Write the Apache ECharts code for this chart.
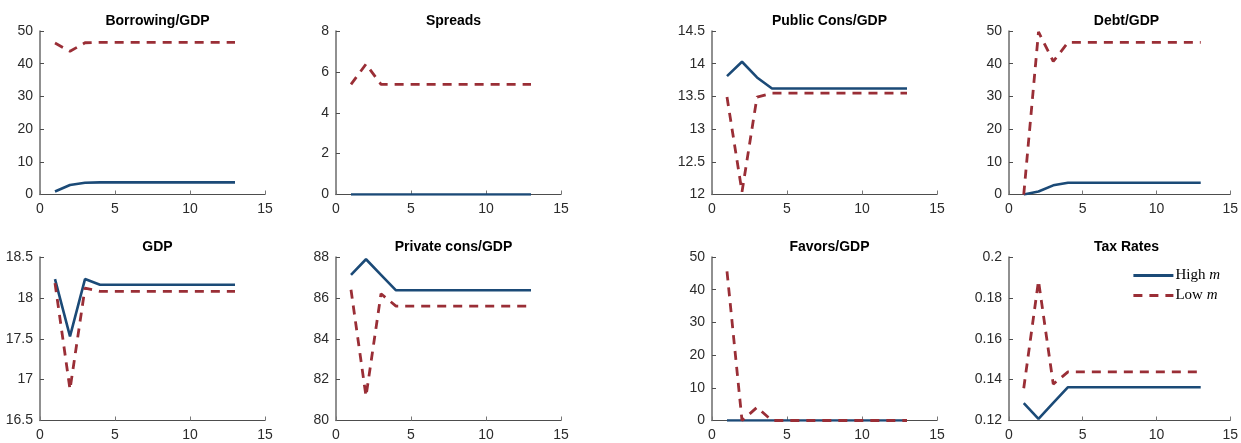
<!DOCTYPE html>
<html>
<head>
<meta charset="utf-8">
<script src="https://cdn.jsdelivr.net/npm/echarts@6/dist/echarts.min.js"></script>
<style>
html,body{margin:0;padding:0;background:#fff;}
#chart{width:1241px;height:443px;}
</style>
</head>
<body>
<div id="chart"></div>
<script>
// Periods
const periods = [1,2,3,4,5,6,7,8,9,10,11,12,13];

// Panel titles
const titles = ['Borrowing/GDP','Spreads','Public Cons/GDP','Debt/GDP','GDP','Private cons/GDP','Favors/GDP','Tax Rates'];

// Series values (High m, Low m) per panel
const borrowingHigh = [0.9,2.9,3.6,3.7,3.7,3.7,3.7,3.7,3.7,3.7,3.7,3.7,3.7];
const borrowingLow  = [46.3,43.8,46.4,46.5,46.5,46.5,46.5,46.5,46.5,46.5,46.5,46.5,46.5];
const spreadsHigh   = [0,0,0,0,0,0,0,0,0,0,0,0,0];
const spreadsLow    = [5.39,6.38,5.39,5.39,5.39,5.39,5.39,5.39,5.39,5.39,5.39,5.39,5.39];
const pubConsHigh   = [13.81,14.03,13.79,13.62,13.62,13.62,13.62,13.62,13.62,13.62,13.62,13.62,13.62];
const pubConsLow    = [13.49,12.04,13.49,13.55,13.55,13.55,13.55,13.55,13.55,13.55,13.55,13.55,13.55];
const debtHigh      = [0,0.9,2.8,3.6,3.6,3.6,3.6,3.6,3.6,3.6,3.6,3.6,3.6];
const debtLow       = [0,49.7,40.7,46.5,46.5,46.5,46.5,46.5,46.5,46.5,46.5,46.5,46.5];
const gdpHigh       = [18.23,17.53,18.23,18.16,18.16,18.16,18.16,18.16,18.16,18.16,18.16,18.16,18.16];
const gdpLow        = [18.18,16.88,18.12,18.08,18.08,18.08,18.08,18.08,18.08,18.08,18.08,18.08,18.08];
const privConsHigh  = [87.13,87.89,87.13,86.37,86.37,86.37,86.37,86.37,86.37,86.37,86.37,86.37,86.37];
const privConsLow   = [86.4,81.18,86.2,85.6,85.6,85.6,85.6,85.6,85.6,85.6,85.6,85.6,85.6];
const favorsHigh    = [0,0,0,0,0,0,0,0,0,0,0,0,0];
const favorsLow     = [45.6,0,4.0,0,0,0,0,0,0,0,0,0,0];
const taxHigh       = [0.1285,0.1208,0.1286,0.1363,0.1363,0.1363,0.1363,0.1363,0.1363,0.1363,0.1363,0.1363,0.1363];
const taxLow        = [0.1358,0.1884,0.1378,0.1438,0.1438,0.1438,0.1438,0.1438,0.1438,0.1438,0.1438,0.1438,0.1438];

// Axis ranges
const yMins = [0,0,12,0,16.5,80,0,0.12];
const yMaxs = [50,8,14.5,50,18.5,88,50,0.2];
const yIntervals = [10,2,0.5,10,0.5,2,10,0.02];
const xMin = 0, xMax = 15, xInterval = 5;

const highSeries = [borrowingHigh,spreadsHigh,pubConsHigh,debtHigh,gdpHigh,privConsHigh,favorsHigh,taxHigh];
const lowSeries  = [borrowingLow,spreadsLow,pubConsLow,debtLow,gdpLow,privConsLow,favorsLow,taxLow];

const seriesNames = ['High m','Low m'];

// Layout
const colLefts = [40,336,712,1009];
const colWidth = 225;
const rowTops = [31,257];
const rowHeight = 163.5;

const BLUE = '#1b4a77';
const RED = '#9a2e36';
const AXIS = '#4d4d4d';
const LABEL = '#2b2b2b';
const FONT = 'Liberation Sans, Arial, sans-serif';

const grids = [], xAxes = [], yAxes = [], series = [], titleArr = [];
for (let i = 0; i < 8; i++) {
  const col = i % 4, row = Math.floor(i / 4);
  grids.push({left: colLefts[col], top: rowTops[row], width: colWidth, height: rowHeight});
  titleArr.push({
    text: titles[i],
    left: colLefts[col] + colWidth / 2,
    top: rowTops[row] - 22,
    textAlign: 'center',
    textStyle: {fontFamily: FONT, fontSize: 14, fontWeight: 'bold', color: '#000'}
  });
  xAxes.push({
    gridIndex: i, type: 'value', min: xMin, max: xMax, interval: xInterval,
    axisLine: {show: true, onZero: false, lineStyle: {color: AXIS, width: 1}},
    axisTick: {show: true, inside: true, length: 4, lineStyle: {color: '#777'}},
    axisLabel: {fontFamily: FONT, fontSize: 14, color: LABEL, margin: 8},
    splitLine: {show: false}
  });
  yAxes.push({
    gridIndex: i, type: 'value', min: yMins[i], max: yMaxs[i], interval: yIntervals[i],
    axisLine: {show: true, onZero: false, lineStyle: {color: '#6b6b6b', width: 1.5}},
    axisTick: {show: true, inside: true, length: 4, lineStyle: {color: AXIS}},
    axisLabel: {fontFamily: FONT, fontSize: 14, color: LABEL, margin: 7},
    splitLine: {show: false}
  });
  series.push({
    name: seriesNames[0], type: 'line', xAxisIndex: i, yAxisIndex: i,
    data: periods.map((p, k) => [p, highSeries[i][k]]),
    symbol: 'none', silent: true, animation: false,
    lineStyle: {color: BLUE, width: 2.6, type: 'solid'},
    itemStyle: {color: BLUE}
  });
  series.push({
    name: seriesNames[1], type: 'line', xAxisIndex: i, yAxisIndex: i,
    data: periods.map((p, k) => [p, lowSeries[i][k]]),
    symbol: 'none', silent: true, animation: false,
    lineStyle: {color: RED, width: 2.8, type: [9, 7]},
    itemStyle: {color: RED}
  });
}

const chart = echarts.init(document.getElementById('chart'), null, {renderer: 'canvas'});
chart.setOption({
  backgroundColor: '#fff',
  animation: false,
  title: titleArr,
  grid: grids,
  xAxis: xAxes,
  yAxis: yAxes,
  legend: {
    data: seriesNames,
    orient: 'vertical',
    left: 1132,
    top: 268,
    itemWidth: 40,
    itemHeight: 10,
    itemGap: 5,
    padding: 0,
    itemStyle: {opacity: 0},
    lineStyle: {width: 2.8},
    textStyle: {
      fontFamily: 'Liberation Serif, DejaVu Serif, serif', fontSize: 15, color: '#000', padding: [0,0,0,-3],
      rich: {i: {fontStyle: 'italic', fontFamily: 'Liberation Serif, DejaVu Serif, serif', fontSize: 15, color: '#000'}}
    },
    formatter: function (name) { return name.replace(' m', ' {i|m}'); }
  },
  series: series
});
</script>
</body>
</html>
